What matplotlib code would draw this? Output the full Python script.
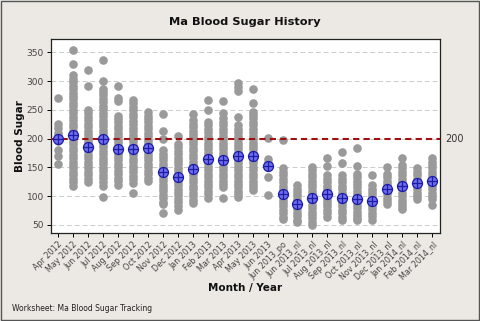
import matplotlib
matplotlib.use("Agg")
import matplotlib.pyplot as plt
from matplotlib.patches import Rectangle
from matplotlib.transforms import blended_transform_factory

months = ["Apr 2012", "May 2012", "Jun 2012", "Jul 2012", "Aug 2012", "Sep 2012",
          "Oct 2012", "Nov 2012", "Dec 2012", "Jan 2013", "Feb 2013", "Mar 2013",
          "Apr 2013", "May 2013", "Jun 2013", "Jun 2013_po", "Jun 2013_nl",
          "Jul 2013_nl", "Aug 2013_nl", "Sep 2013_nl", "Oct 2013_nl", "Nov 2013_nl",
          "Dec 2013_nl", "Jan 2014_nl", "Feb 2014_nl", "Mar 2014_nl"]

apr_2012 = [270, 225, 218, 210, 205, 200, 196, 180, 170, 155]
may_2012 = [354, 330, 310, 304, 298, 292, 286, 280, 274, 268, 262, 256, 250, 244, 238, 232, 226,
            220, 214, 208, 202, 196, 190, 184, 178, 172, 166, 160, 154, 148, 142, 136, 130, 124, 118]
jun_2012 = [319, 292, 250, 244, 238, 232, 226, 220, 214, 208, 202, 196, 190, 184, 178, 172, 166,
            160, 154, 148, 142, 136, 130, 124]
jul_2012 = [337, 300, 287, 281, 275, 269, 263, 257, 251, 245, 239, 233, 227, 221, 215, 209, 203,
            197, 191, 185, 179, 173, 167, 161, 155, 149, 143, 137, 131, 125, 118, 98]
aug_2012 = [291, 270, 266, 240, 234, 228, 222, 216, 210, 204, 198, 192, 186, 180, 174, 168, 162,
            156, 150, 144, 138, 132, 126, 120]
sep_2012 = [267, 261, 255, 249, 243, 237, 231, 225, 219, 213, 207, 201, 195, 189, 183, 177, 171,
            165, 159, 153, 147, 141, 135, 129, 123, 105]
oct_2012 = [246, 240, 234, 228, 222, 216, 210, 204, 198, 192, 186, 180, 174, 168, 162, 156, 150,
            144, 138, 132, 127]
nov_2012 = [242, 213, 199, 180, 174, 168, 162, 156, 150, 144, 138, 132, 126, 120, 114, 108, 102,
            96, 90, 86, 71]
dec_2012 = [204, 191, 185, 179, 173, 167, 161, 155, 149, 143, 137, 131, 125, 119, 113, 107, 101,
            95, 89, 83, 75]
jan_2013 = [242, 232, 226, 220, 214, 208, 202, 196, 190, 184, 178, 172, 166, 160, 154, 148, 142,
            136, 130, 124, 118, 112, 106, 100, 94, 88]
feb_2013 = [267, 249, 229, 223, 217, 211, 205, 199, 193, 187, 181, 175, 169, 163, 157, 151, 145,
            139, 133, 127, 121, 115, 109, 103, 96]
mar_2013 = [266, 245, 235, 229, 223, 217, 211, 205, 199, 193, 187, 181, 175, 169, 163, 157, 151,
            145, 139, 133, 127, 121, 116, 97]
apr_2013 = [297, 290, 283, 237, 223, 217, 211, 205, 199, 193, 187, 181, 175, 169, 163, 157, 151,
            145, 139, 133, 127, 121, 115, 109, 103, 98]
may_2013 = [287, 261, 246, 241, 235, 229, 223, 217, 211, 205, 199, 193, 187, 181, 175, 169, 163,
            157, 151, 145, 139, 133, 127, 121, 115, 110]
jun_2013 = [201, 165, 158, 150, 133, 101]
jun_2013_po = [197, 148, 142, 136, 130, 124, 118, 112, 106, 100, 94, 88, 82, 76, 70, 64, 60]
jun_2013_nl = [119, 113, 107, 101, 95, 89, 83, 77, 71, 65, 59, 55]
jul_2013_nl = [151, 145, 139, 133, 127, 121, 115, 109, 103, 97, 91, 85, 79, 73, 67, 61, 55, 50]
aug_2013_nl = [166, 153, 136, 130, 124, 118, 112, 106, 100, 94, 88, 82, 76, 70, 64]
sep_2013_nl = [177, 158, 136, 130, 124, 118, 112, 106, 100, 94, 88, 82, 76, 70, 64, 58]
oct_2013_nl = [184, 153, 139, 133, 127, 121, 115, 109, 103, 97, 91, 85, 79, 73, 67, 61, 58]
nov_2013_nl = [136, 119, 113, 107, 101, 95, 89, 83, 77, 71, 65, 59]
dec_2013_nl = [150, 139, 133, 127, 121, 115, 109, 103, 97, 91, 87]
jan_2014_nl = [166, 154, 148, 142, 136, 130, 124, 118, 112, 106, 100, 94, 88, 82, 78]
feb_2014_nl = [148, 142, 136, 130, 124, 118, 112, 106, 100, 95]
mar_2014_nl = [166, 160, 154, 148, 142, 136, 130, 124, 118, 112, 106, 100, 95, 84]

readings = [apr_2012, may_2012, jun_2012, jul_2012, aug_2012, sep_2012, oct_2012, nov_2012,
            dec_2012, jan_2013, feb_2013, mar_2013, apr_2013, may_2013, jun_2013, jun_2013_po,
            jun_2013_nl, jul_2013_nl, aug_2013_nl, sep_2013_nl, oct_2013_nl, nov_2013_nl,
            dec_2013_nl, jan_2014_nl, feb_2014_nl, mar_2014_nl]

means = [200, 207, 185, 199, 181, 181, 183, 142, 134, 147, 165, 162, 170, 170, 153, 104,
         87, 97, 103, 97, 95, 92, 113, 118, 122, 126]

reference = 200
yticks = [50, 100, 150, 200, 250, 300, 350]

bg = "#ECE9E4"
fig = plt.figure(figsize=(4.8, 3.21), dpi=100, facecolor=bg)
fig.patches.append(Rectangle((0.002, 0.003), 0.995, 0.994, transform=fig.transFigure,
                             fill=False, edgecolor="#555555", linewidth=1.0))

ax = fig.add_axes([0.106, 0.274, 0.811, 0.603])
ax.set_facecolor("white")

for i, vals in enumerate(readings):
    ax.plot([i] * len(vals), vals, linestyle="none", marker="o", markersize=6.2,
            color="#9A9A9A", markeredgewidth=0, zorder=2)

x_idx = list(range(len(months)))
ax.plot(x_idx, means, linestyle="none", marker="o", markersize=7.2,
        markerfacecolor="#6E6EEA", markeredgecolor="#1C1CA8", markeredgewidth=0.9, zorder=4)
ax.plot(x_idx, means, linestyle="none", marker="+", markersize=7.2,
        color="#1C1CA8", markeredgewidth=0.9, zorder=5)

ax.axhline(reference, color="#A01010", linestyle=(0, (3, 2)), linewidth=1.5, zorder=3)
trans = blended_transform_factory(ax.transAxes, ax.transData)
ax.text(1.012, reference, "200", transform=trans, fontsize=7, color="#333333",
        va="center", ha="left")

ax.set_xlim(-0.47, 25.53)
ax.set_ylim(35.7, 372.3)
ax.set_yticks(yticks)
ax.set_yticklabels([str(v) for v in yticks])
ax.yaxis.grid(True, color="#CCCCCC", linestyle=(0, (5, 3)), linewidth=0.7)
ax.set_axisbelow(True)
ax.set_xticks(x_idx)
ax.set_xticklabels(months, rotation=45, ha="right", rotation_mode="anchor", fontsize=5.8,
                   color="#444444")
ax.tick_params(axis="y", labelsize=6.5, labelcolor="#444444", length=3, width=0.7, pad=2)
ax.tick_params(axis="x", length=3, width=0.7, pad=2)
for s in ax.spines.values():
    s.set_color("#222222")
    s.set_linewidth(0.9)

fig.text(0.51, 0.931, "Ma Blood Sugar History", ha="center", va="center",
         fontsize=8.2, fontweight="bold", color="#111111")
fig.text(0.042, 0.575, "Blood Sugar", ha="center", va="center", rotation=90,
         fontsize=7.5, fontweight="bold", color="#111111")
fig.text(0.51, 0.103, "Month / Year", ha="center", va="center",
         fontsize=7.5, fontweight="bold", color="#111111")
fig.text(0.025, 0.04, "Worksheet: Ma Blood Sugar Tracking", ha="left", va="center",
         fontsize=5.5, color="#222222")

fig.savefig("out.png", dpi=100, facecolor=bg)
